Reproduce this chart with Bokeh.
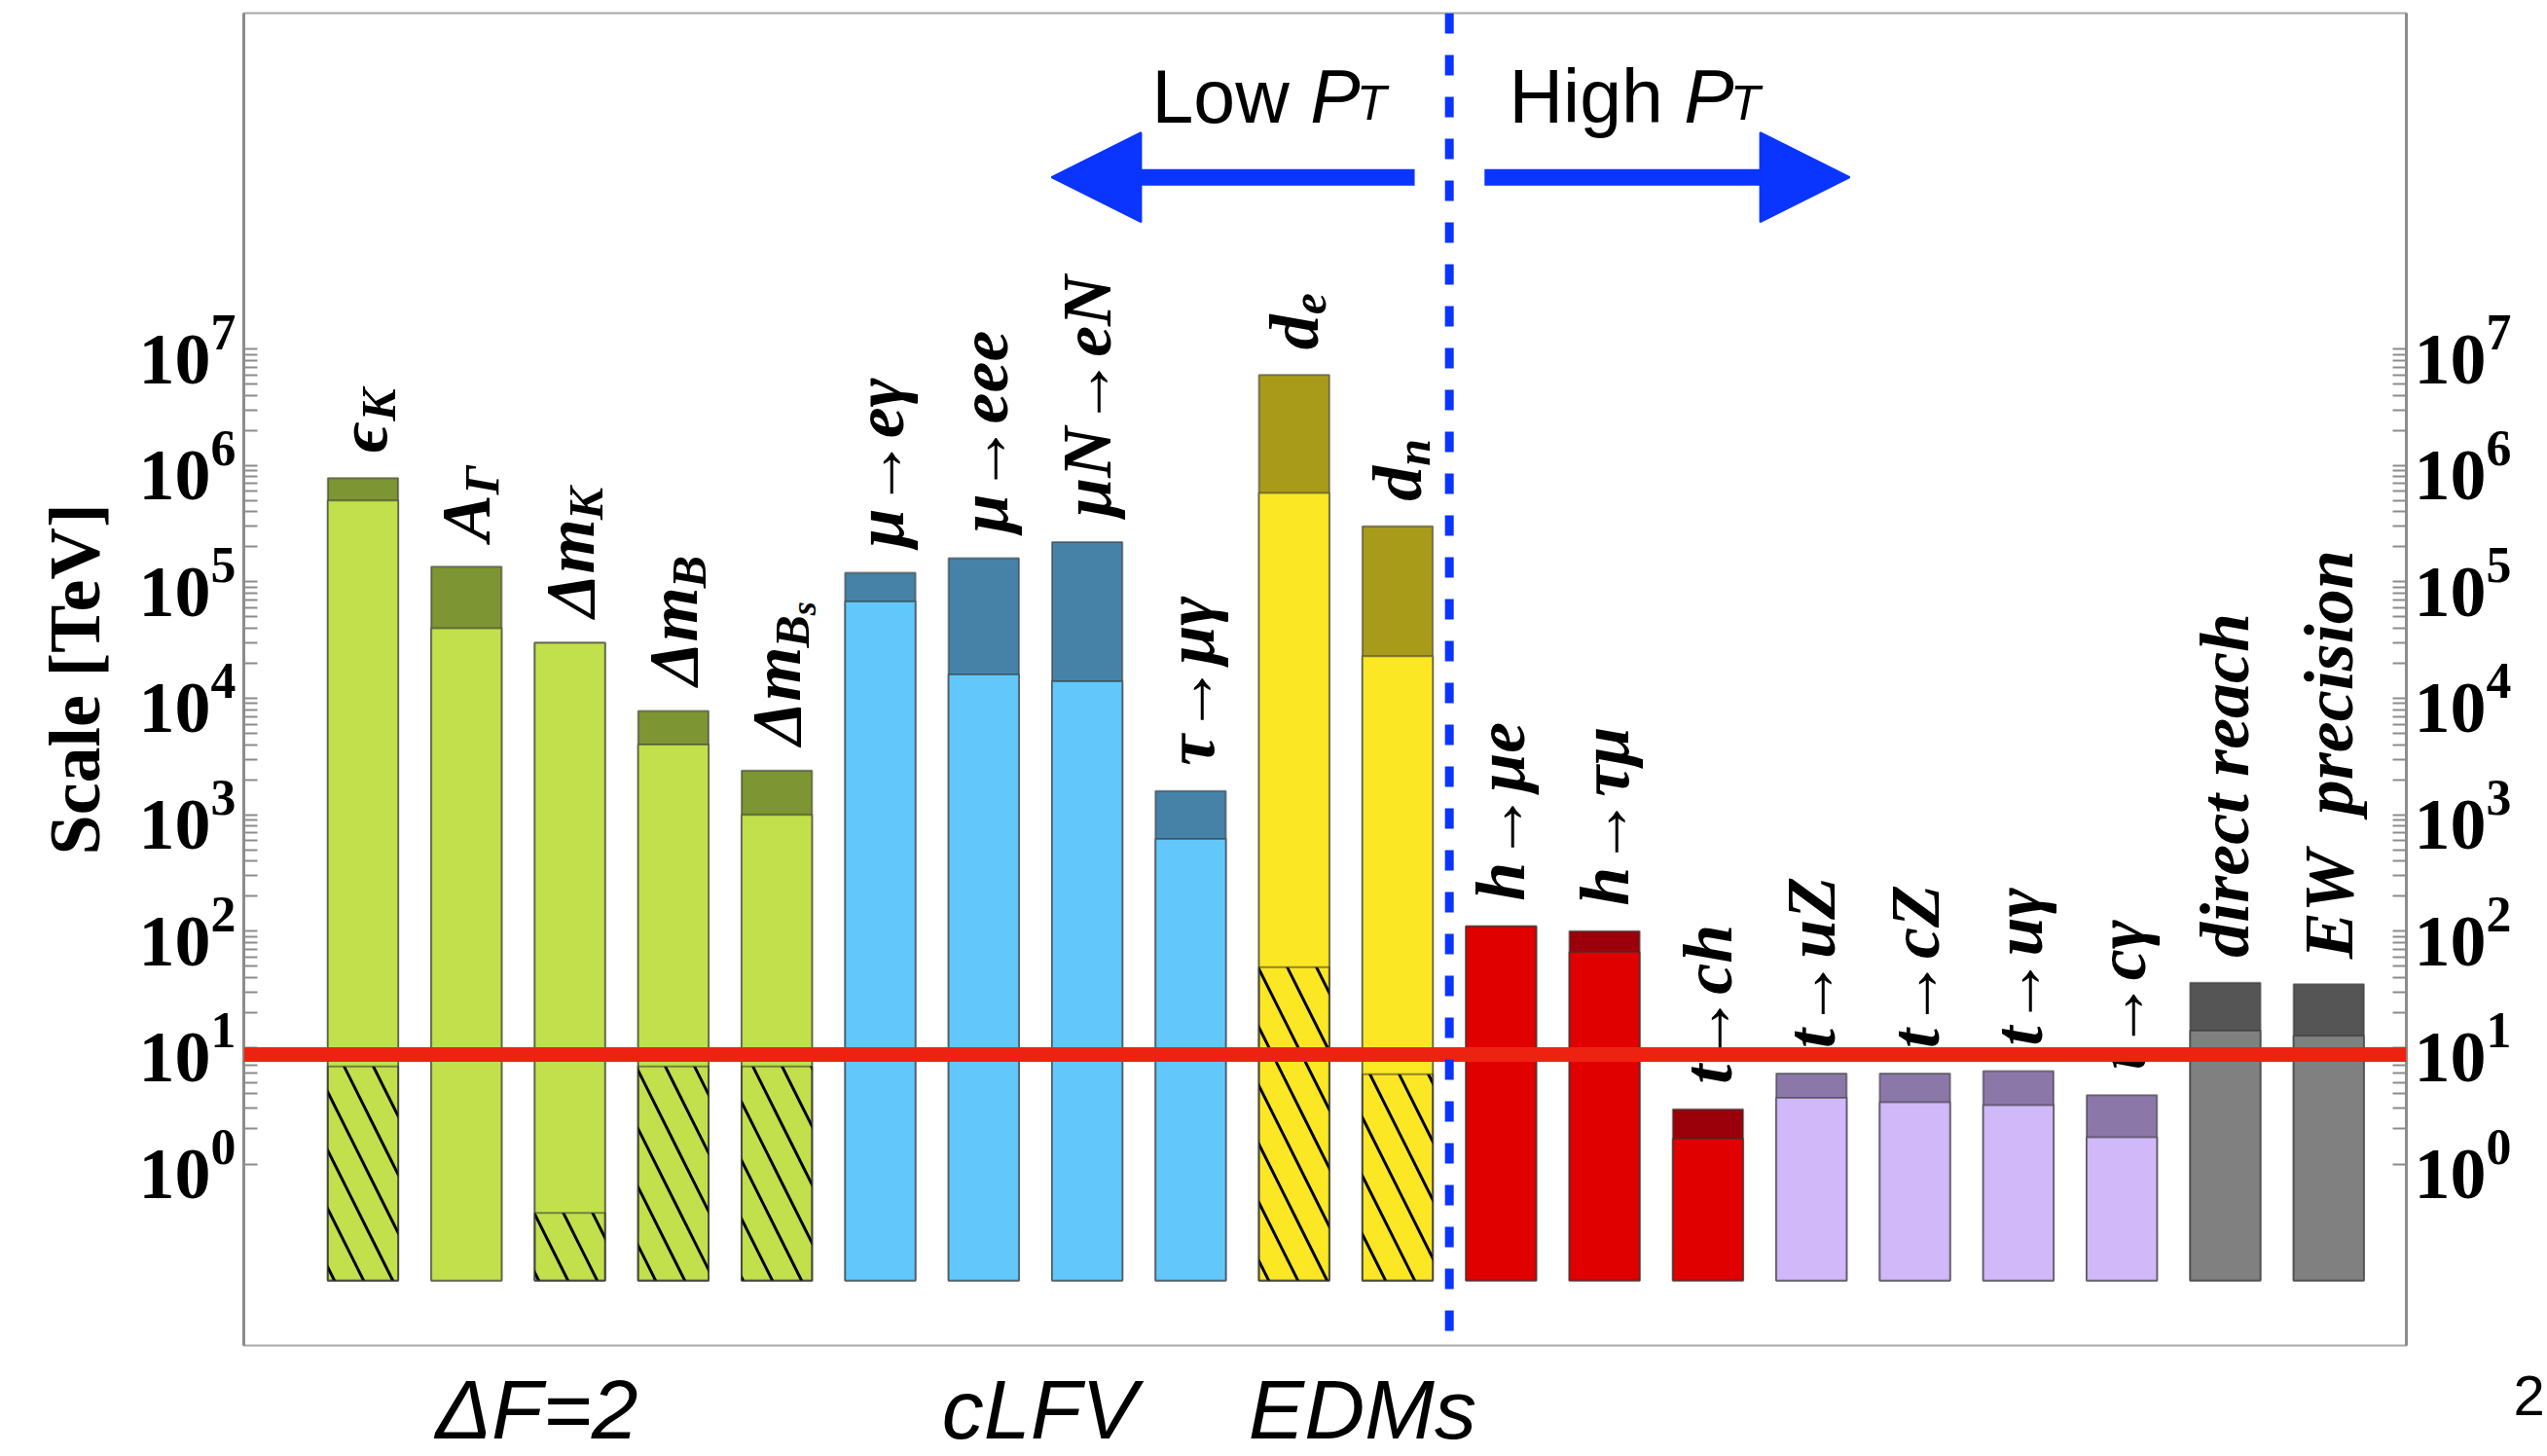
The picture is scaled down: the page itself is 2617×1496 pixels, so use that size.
import math
from bokeh.plotting import figure
from bokeh.layouts import column
from bokeh.models import (Range1d, LogAxis, LinearAxis, FixedTicker, Span, Arrow, NormalHead,
                          ColumnDataSource)
from bokeh.core.properties import value
from bokeh.embed import file_html
from bokeh.resources import INLINE

# ------------------------------------------------------------------ data
label_main = ["ϵ", "A", "Δm", "Δm", "Δm",
              "μ→eγ", "μ→eee", "μN→eN", "τ→μγ",
              "d", "d",
              "h→μe", "h→τμ", "t→ch",
              "t→uZ", "t→cZ", "t→uγ", "t→cγ",
              "direct reach", "EW\u00a0 precision"]
label_sub = ["K", "Γ", "K", "B", "B",
             "", "", "", "",
             "e", "n",
             "", "", "",
             "", "", "", "",
             "", ""]
label_subsub = ["", "", "", "", "s"] + [""] * 15
groups = ["dF2"] * 5 + ["cLFV"] * 4 + ["EDM"] * 2 + ["hLFV"] * 3 + ["top"] * 4 + ["EW"] * 2

# scale reach in TeV
scale_max = [7.8e5, 1.35e5, 3.0e4, 7.8e3, 2.4e3,
             1.2e5, 1.6e5, 2.2e5, 1.6e3,
             6.0e6, 3.0e5,
             110, 100, 2.95,
             6.0, 6.0, 6.3, 3.9,
             36, 35]
scale_central = [5.0e5, 4.0e4, 3.0e4, 4.0e3, 1.0e3,
                 6.8e4, 1.6e4, 1.4e4, 620,
                 5.8e5, 2.3e4,
                 110, 66, 1.65,
                 3.7, 3.4, 3.2, 1.7,
                 14, 12.6]
scale_hatched = [6.9, None, 0.38, 6.9, 6.9,
                 None, None, None, None,
                 49, 5.9,
                 None, None, None,
                 None, None, None, None,
                 None, None]
bar_floor = 0.1
red_line_scale = 8.7
n_low_pt = 11

group_titles = ["ΔF=2", "cLFV", "EDMs"]
page_number = "2"
major_ticks = [10.0 ** k for k in range(0, 8)]
minor_ticks = [m * 10.0 ** k for k in range(0, 7) for m in range(2, 10)]

# ------------------------------------------------------------------ style
light = {"dF2": "#C2E04B", "cLFV": "#62C8FC", "EDM": "#FCE724",
         "hLFV": "#E00000", "top": "#D0B8F9", "EW": "#808080"}
dark = {"dF2": "#7D9532", "cLFV": "#4682A8", "EDM": "#A89B1A",
        "hLFV": "#9B000A", "top": "#8B78A8", "EW": "#555555"}
BLUE = "#0A34FF"
SERIF = "Liberation Serif"
SANS = "Liberation Sans"
LBL = 72          # category label font size (px)
SUB = 50
SUBSUB = 36
em_width = {"ϵ": 0.45, "A": 0.667, "Δm": 1.39, "d": 0.5, "B": 0.667}

W = 2617
B_LEFT, B_RIGHT, B_TOP, B_BOTTOM = 250, 145, 13, 10
FRAME_H = 1369
H_MAIN = B_TOP + FRAME_H + B_BOTTOM
H_FOOT = 1496 - H_MAIN
X0, X1 = -1.152, 19.75
layout = {
    "title_x": [1.68, 6.54, 9.66],
    "title_base": 55,          # px from top of footer strip
    "page_mid": 41,            # px from top of footer strip
    "page_standoff": 104,
    "arrow_y": 10 ** 8.475,
    "left_arrow": (10.165, 6.655),
    "right_arrow": (10.84, 14.37),
    "head_y": 10 ** 9.17,
    "low_x": 7.625, "high_x": 11.077,
}

n = len(label_main)
xs = list(range(n))

p = figure(width=W, height=H_MAIN,
           x_range=Range1d(X0, X1),
           y_range=Range1d(10 ** -1.559, 10 ** 9.885),
           y_axis_type="log", output_backend="svg", toolbar_location=None,
           min_border_left=B_LEFT, min_border_right=B_RIGHT,
           min_border_top=B_TOP, min_border_bottom=B_BOTTOM)
p.title.visible = False
p.xaxis.visible = False
p.xgrid.visible = False
p.ygrid.visible = False
p.outline_line_color = "#A8A8A8"
p.outline_line_width = 2
p.background_fill_color = "white"
p.border_fill_color = "white"

# ------------------------------------------------------------------ bars
src = ColumnDataSource(dict(
    x=xs, top_max=scale_max, top_c=scale_central,
    dcol=[dark[g] for g in groups], lcol=[light[g] for g in groups]))
p.vbar(x="x", top="top_max", bottom=bar_floor, width=0.68, fill_color="dcol",
       line_color="#333333", line_alpha=0.55, line_width=2, source=src)
p.vbar(x="x", top="top_c", bottom=bar_floor, width=0.68, fill_color="lcol",
       line_color="#333333", line_alpha=0.55, line_width=2, source=src)

hx = [i for i in xs if scale_hatched[i] is not None]
hsrc = ColumnDataSource(dict(x=hx, top=[scale_hatched[i] for i in hx]))
p.vbar(x="x", top="top", bottom=bar_floor, width=0.68, fill_color=None,
       line_color="#333333", line_alpha=0.55, line_width=2,
       hatch_pattern="\\", hatch_color="black", hatch_weight=3, hatch_scale=60,
       source=hsrc)

# ------------------------------------------------------------------ category labels
tops = [max(a, b) for a, b in zip(scale_max, scale_central)]
gap = 26
main_w = [em_width.get(t, 0) * LBL for t in label_main]
lsrc = ColumnDataSource(dict(
    x=xs, y=tops, main=label_main, sub=label_sub, subsub=label_subsub,
    sub_dy=[-(gap + w) for w in main_w],
    subsub_dy=[-(gap + w + em_width["B"] * SUB) for w in main_w]))
common = dict(angle=math.pi / 2, text_align="left", text_baseline="middle",
              text_font=value(SERIF), text_font_style="bold italic",
              text_color="black", source=lsrc)
p.text(x="x", y="y", text="main", y_offset=-gap, text_font_size=f"{LBL}px", **common)
p.text(x="x", y="y", text="sub", x_offset=16, y_offset="sub_dy",
       text_font_size=f"{SUB}px", **common)
p.text(x="x", y="y", text="subsub", x_offset=28, y_offset="subsub_dy",
       text_font_size=f"{SUBSUB}px", **common)

# ------------------------------------------------------------------ axes
right_axis = LogAxis()
p.add_layout(right_axis, "right")
for ax in [p.yaxis[0], right_axis]:
    ax.ticker = FixedTicker(ticks=major_ticks, minor_ticks=minor_ticks)
    ax.axis_line_color = "#8C8C8C"
    ax.axis_line_width = 3
    ax.major_tick_line_color = "#8C8C8C"
    ax.minor_tick_line_color = "#8C8C8C"
    ax.major_tick_line_width = 2
    ax.minor_tick_line_width = 2
    ax.major_tick_in = 14
    ax.major_tick_out = 0
    ax.minor_tick_in = 14
    ax.minor_tick_out = 0
    ax.major_label_standoff = 8
    ax.major_label_text_font = SERIF
    ax.major_label_text_font_style = "bold"
    ax.major_label_text_font_size = "74px"
    ax.major_label_text_color = "black"
p.yaxis[0].axis_label = "Scale [TeV]"
p.yaxis[0].axis_label_text_font = SERIF
p.yaxis[0].axis_label_text_font_style = "bold"
p.yaxis[0].axis_label_text_font_size = "74px"
p.yaxis[0].axis_label_text_color = "black"
p.yaxis[0].axis_label_standoff = 22

# ------------------------------------------------------------------ red line and divider
p.add_layout(Span(location=red_line_scale, dimension="width",
                  line_color="#EE2211", line_width=15))
p.add_layout(Span(location=n_low_pt - 0.5, dimension="height",
                  line_color=BLUE, line_width=9, line_dash="21 22"))

# ------------------------------------------------------------------ Low / High pT header
for (xa, xb) in [layout["left_arrow"], layout["right_arrow"]]:
    p.add_layout(Arrow(end=NormalHead(size=92, fill_color=BLUE, line_color=BLUE, line_width=2),
                       x_start=xa, y_start=layout["arrow_y"],
                       x_end=xb, y_end=layout["arrow_y"],
                       line_color=BLUE, line_width=17, line_cap="butt"))

HF = 77
head_pieces = []
for word, x0 in [("Low ", layout["low_x"]), ("High ", layout["high_x"])]:
    ww = {"Low ": 2.112, "High ": 2.334}[word] * HF
    head_pieces.append((x0, word, "normal", HF, 0, 0))
    head_pieces.append((x0, "P", "italic", HF, ww, 0))
    head_pieces.append((x0, "T", "italic", 50, ww + 0.62 * HF, 7))
for x0, t, style, fs, dx, dy in head_pieces:
    p.text(x=[x0], y=[layout["head_y"]], text=[t], x_offset=dx, y_offset=dy,
           text_font=value(SANS), text_font_style=style, text_font_size=f"{fs}px",
           text_align="left", text_baseline="alphabetic", text_color="black")

# ------------------------------------------------------------------ footer strip: group titles + page number
foot = figure(width=W, height=H_FOOT,
              x_range=p.x_range,
              y_range=Range1d(H_FOOT, 0),
              output_backend="svg", toolbar_location=None,
              min_border_left=B_LEFT, min_border_right=B_RIGHT,
              min_border_top=0, min_border_bottom=0)
foot.title.visible = False
foot.xaxis.visible = False
foot.yaxis.visible = False
foot.xgrid.visible = False
foot.ygrid.visible = False
foot.outline_line_color = None
foot.background_fill_color = "white"
foot.border_fill_color = "white"
foot.text(x=layout["title_x"], y=[layout["title_base"]] * len(group_titles), text=group_titles,
          text_font=value(SANS), text_font_style="italic", text_font_size="86px",
          text_align="center", text_baseline="alphabetic", text_color="black")
page_axis = LinearAxis(ticker=FixedTicker(ticks=[layout["page_mid"]]),
                       major_label_overrides={layout["page_mid"]: page_number})
page_axis.axis_line_color = None
page_axis.major_tick_line_color = None
page_axis.minor_tick_line_color = None
page_axis.major_label_standoff = layout["page_standoff"]
page_axis.major_label_text_font = SANS
page_axis.major_label_text_font_size = "58px"
page_axis.major_label_text_color = "black"
foot.add_layout(page_axis, "right")

page = column(p, foot, spacing=0)
open("out.html", "w").write(file_html(page, INLINE))
